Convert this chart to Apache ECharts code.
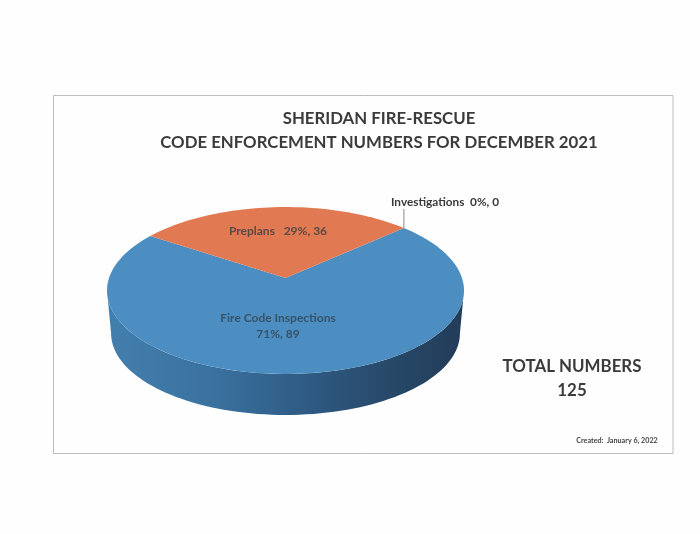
<!DOCTYPE html>
<html>
<head>
<meta charset="utf-8">
<style>html,body{margin:0;padding:0;background:#fefefe}#c{width:700px;height:534px;filter:blur(0.45px)}</style>
<script src="https://cdn.jsdelivr.net/npm/echarts@6/dist/echarts.min.js"></script>
</head>
<body>
<div id="c"></div>
<script>
var categories = ['Fire Code Inspections', 'Preplans', 'Investigations'];
var counts = [89, 36, 0];
var titleLines = ['SHERIDAN FIRE-RESCUE', 'CODE ENFORCEMENT NUMBERS FOR DECEMBER 2021'];
var totalCaption = 'TOTAL NUMBERS';
var createdNote = 'Created:  January 6, 2022';
var sliceColors = ['#4c8ec1', '#e17a52', '#a5a5a5'];
var FONT = 'Lato, Carlito, "Open Sans", sans-serif';

var total = counts.reduce(function (a, b) { return a + b; }, 0);
var START_DEG = 47.6;
// tilted-disc projection: apex stays above the rim ellipse's centre
var P = 0.1497, CX = 285.5, CY = 278, A = 176.5, B = 81.6;
var SIL = Math.acos(-P) * 180 / Math.PI; // silhouette angle of the disc
function proj(deg, scale, dy) {
  var r = deg * Math.PI / 180, u = Math.sin(r), v = -Math.cos(r);
  var k = 1 - P * v;
  var cy0 = CY + 12.5, x = A * u / k, y = CY + B * v / k;
  return [CX + x * scale, cy0 + (y - cy0) * scale + dy];
}
function arc(a0, a1, scale, dy) {
  var n = Math.max(2, Math.ceil(Math.abs(a1 - a0) / 2)), out = [];
  for (var i = 0; i <= n; i++) out.push(proj(a0 + (a1 - a0) * i / n, scale, dy));
  return out;
}
var sideGradient = new echarts.graphic.LinearGradient(0, 0, 1, 0, [
  { offset: 0, color: '#437fae' },
  { offset: 0.3, color: '#3a719f' },
  { offset: 0.55, color: '#2f5b85' },
  { offset: 0.8, color: '#274868' },
  { offset: 1, color: '#233c59' }
]);
var cursor = START_DEG;
var spans = counts.map(function (c) {
  var s = { from: cursor, to: cursor + c / total * 360 };
  cursor = s.to;
  return s;
});
function pct(i) { return Math.round(counts[i] / total * 100) + '%'; }

function renderItem(params, api) {
  var i = params.dataIndex, s = spans[i], kids = [];
  if (counts[i] > 0) {
    var a0 = Math.max(s.from, SIL), a1 = Math.min(s.to, 360 - SIL);
    if (a1 > a0) {
      var top = arc(a0, a1, 1, 0), bot = arc(a1, a0, 0.977, 42.9);
      kids.push({ type: 'polygon', shape: { points: top.concat(bot) }, style: { fill: sideGradient } });
    }
    var pts = [[CX, CY]].concat(arc(s.from, s.to, 1, 0));
    kids.push({ type: 'polygon', z2: 2, shape: { points: pts }, style: { fill: sliceColors[i] } });
  }
  return { type: 'group', children: kids };
}

var labelStyle = { fontFamily: FONT, fontSize: 12, fontWeight: 700, fill: '#37536a', textAlign: 'center', textVerticalAlign: 'middle' };
function lbl(text, x, y, extra) {
  return { type: 'text', z: 20, x: x, y: y, style: Object.assign({}, labelStyle, { text: text }, extra || {}) };
}
var edge = proj(spans[2].from, 1, 0);

var chart = echarts.init(document.getElementById('c'), null, { renderer: 'canvas' });
chart.setOption({
  animation: false,
  backgroundColor: '#fefefe',
  title: {
    text: titleLines.join('\n'), left: 374, top: 102, textAlign: 'center',
    textStyle: { fontFamily: FONT, fontSize: 16.8, fontWeight: 700, color: '#3b3b3b', lineHeight: 24 }
  },
  series: [{
    type: 'custom', coordinateSystem: 'none', renderItem: renderItem, clip: false,
    data: categories.map(function (c, i) { return { name: c, value: counts[i] }; })
  }],
  graphic: [
    { type: 'rect', z: 0, shape: { x: 53.5, y: 95.5, width: 619.5, height: 358 }, style: { fill: 'none', stroke: '#bdbdbd', lineWidth: 1 } },
    lbl(categories[1] + '   ' + pct(1) + ', ' + counts[1], 278, 231.5, { fill: '#5a4a44' }),
    lbl(categories[0], 278, 318),
    lbl(pct(0) + ', ' + counts[0], 278, 334),
    lbl(categories[2] + '  ' + pct(2) + ', ' + counts[2], 445, 202, { fill: '#3a3a3a', fontSize: 11.8 }),
    { type: 'line', z: 20, shape: { x1: edge[0], y1: edge[1], x2: edge[0], y2: 209 }, style: { stroke: '#8a8a8a', lineWidth: 1 } },
    { type: 'text', z: 20, x: 572, y: 367, style: { text: totalCaption, fontFamily: FONT, fontSize: 16.9, fontWeight: 700, fill: '#3b3b3b', textAlign: 'center', textVerticalAlign: 'middle' } },
    { type: 'text', z: 20, x: 572, y: 391, style: { text: String(total), fontFamily: FONT, fontSize: 16.9, fontWeight: 700, fill: '#3b3b3b', textAlign: 'center', textVerticalAlign: 'middle' } },
    { type: 'text', z: 20, x: 617, y: 440.5, style: { text: createdNote, fontFamily: FONT, fontSize: 7.2, fontWeight: 700, fill: '#444', textAlign: 'center', textVerticalAlign: 'middle' } }
  ]
});
</script>
</body>
</html>
